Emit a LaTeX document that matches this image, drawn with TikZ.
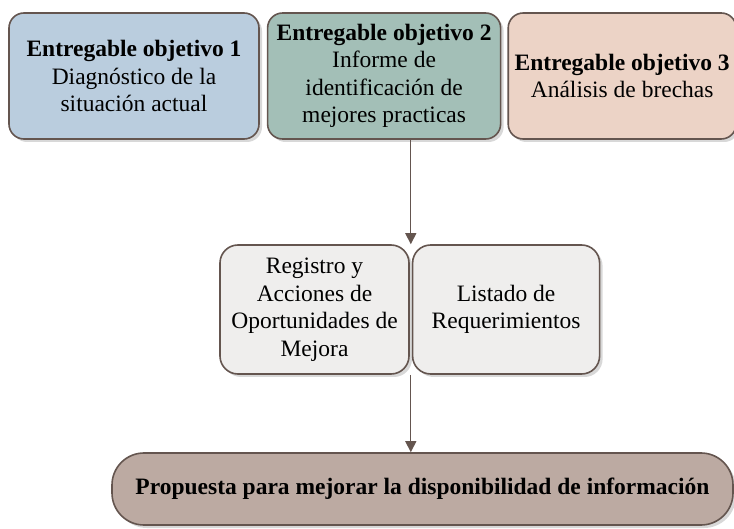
\documentclass[tikz,border=0pt]{standalone}
\usepackage{fontspec}
\setmainfont{Liberation Serif}
\usetikzlibrary{arrows.meta, shapes, positioning, shadows, calc}

\definecolor{borde}{RGB}{100,85,79}
\definecolor{azul}{RGB}{186,205,222}
\definecolor{verde}{RGB}{163,191,183}
\definecolor{salmon}{RGB}{236,211,198}
\definecolor{gris}{RGB}{239,238,237}
\definecolor{taupe}{RGB}{188,170,162}

\begin{document}
\begin{tikzpicture}[x=1pt, y=1pt, >={Triangle[length=11pt, width=11pt]}, line width=1.6pt, font=\fontsize{23.5}{27.5}\selectfont,
        caja/.style={rectangle, rounded corners=15pt, draw=borde, align=center, inner sep=0pt,
            drop shadow={shadow xshift=3pt, shadow yshift=-3pt, fill=black!30, opacity=0.5}}]
        \useasboundingbox (0,0) rectangle (734,-529);

        \node[caja, fill=azul, minimum width=250pt, minimum height=126pt] (ob1) at (134,-76) {\textbf{Entregable objetivo 1}\\Diagnóstico de la\\situación actual};
        \node[caja, fill=verde, minimum width=233pt, minimum height=126pt, right=7pt of ob1] (ob2) {\textbf{Entregable objetivo 2}\\Informe de\\identificación de\\mejores practicas};
        \node[caja, fill=salmon, minimum width=228pt, minimum height=126pt, right=6pt of ob2] (ob3) {\textbf{Entregable objetivo 3}\\Análisis de brechas};

        \node[caja, fill=gris, rounded corners=18pt, minimum width=189pt, minimum height=129pt] (reg) at (314.5,-309.5) {Registro y\\Acciones de\\Oportunidades de\\Mejora};
        \node[caja, fill=gris, rounded corners=18pt, minimum width=187pt, minimum height=129pt, right=2pt of reg] (lis) {Listado de\\Requerimientos};

        \node[caja, fill=taupe, rounded corners=32pt, minimum width=621pt, minimum height=72pt] (prop) at (422.5,-489) {\textbf{Propuesta para mejorar la disponibilidad de información}};

        \coordinate (arriba) at ($(reg.north east)!0.5!(lis.north west)$);
        \coordinate (abajo) at ($(reg.south east)!0.5!(lis.south west)$);

        % Draw Vertical Arrows
        \draw[->, borde, line width=1.3pt] (ob2.south -| arriba) -- (arriba);
        \draw[->, borde, line width=1.3pt] (abajo) -- (prop.north -| abajo);

\end{tikzpicture}
\end{document}
